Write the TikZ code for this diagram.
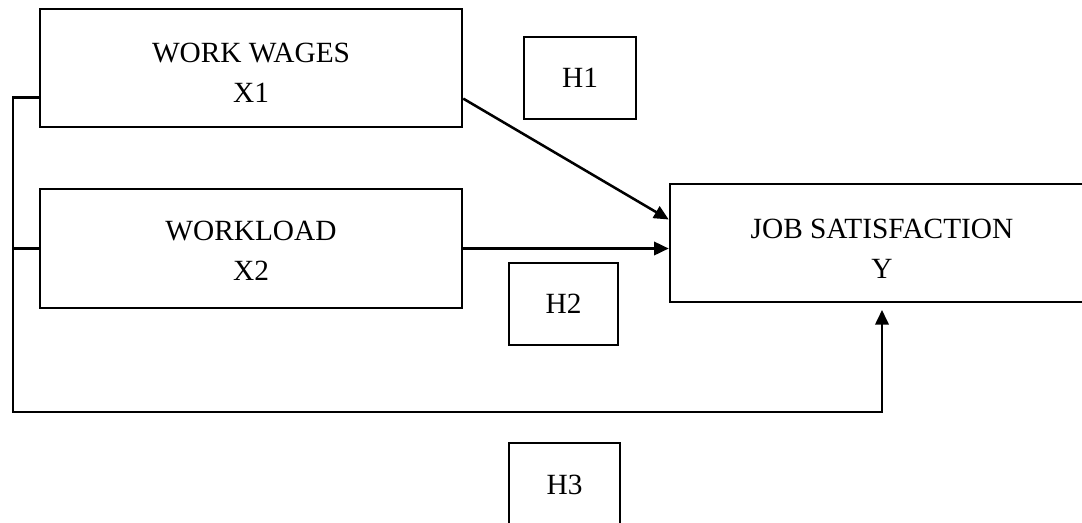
\documentclass[tikz,border=0pt]{standalone}
\usepackage{fontspec}
\setmainfont{Liberation Serif}
\usetikzlibrary{arrows.meta,calc}
\begin{document}
\begin{tikzpicture}[x=0.75pt,y=-0.75pt,
  box/.style={draw,line width=1.9pt,inner sep=0pt},
  txt/.style={inner sep=0pt,align=center,font=\fontsize{22}{30}\selectfont},
  hyp/.style={draw,line width=1.9pt,inner sep=0pt,font=\fontsize{22}{30}\selectfont},
  link/.style={line width=1.9pt},
  arr/.style={line width=1.9pt,-{Triangle[length=11pt,width=10pt]}}]
\useasboundingbox (0,0) rectangle (1082,522);
\clip (0,0) rectangle (1082,522);
\node[box,minimum width=422*0.75pt,minimum height=118*0.75pt] (x1) at (251,68) {};
\node[txt] (x1t) at (251,73) {WORK WAGES\\X1};
\node[box,minimum width=422*0.75pt,minimum height=119*0.75pt] (x2) at (251,248.5) {};
\node[txt] (x2t) at (251,251) {WORKLOAD\\X2};
\node[box,minimum width=424*0.75pt,minimum height=118*0.75pt] (y) at (882,243) {};
\node[txt] (yt) at (882,249) {JOB SATISFACTION\\Y};
\node[hyp,minimum width=112*0.75pt,minimum height=82*0.75pt] (h1) at (580,78) {H1};
\node[hyp,minimum width=109*0.75pt,minimum height=82*0.75pt] (h2) at (563.5,304) {H2};
\node[hyp,minimum width=111*0.75pt,minimum height=84*0.75pt] (h3) at (564.5,485) {H3};
\coordinate (s1) at ($(x1.north east)!0.754!(x1.south east)$);
\coordinate (e1) at ($(y.north west)!0.305!(y.south west)$);
\coordinate (b1) at ($(x1.north west)!0.746!(x1.south west)$);
\coordinate (lft) at (13,0);
\coordinate (bot) at (0,412);
\draw[arr] (s1) -- (e1);
\draw[arr] (x2.east) -- (x2.east -| y.west);
\draw[link] (x2.west) -- (x2.west -| lft);
\draw[arr,shorten >=5pt] (b1) -- (b1 -| lft) -- (lft |- bot) -| (y.south);
\end{tikzpicture}
\end{document}
